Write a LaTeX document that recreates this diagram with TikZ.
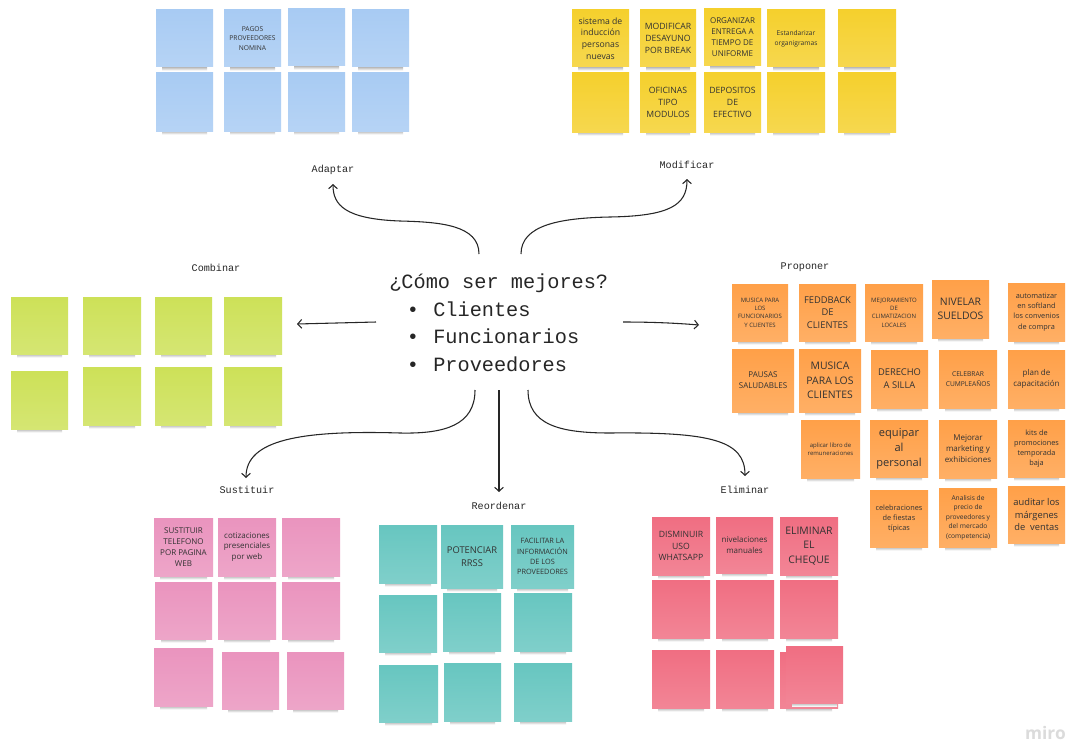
\documentclass[tikz,border=0pt]{standalone}
\usepackage{fontspec}
\setmainfont{Open Sans}
\newfontfamily\monof{Liberation Mono}
\usetikzlibrary{arrows.meta}

\definecolor{nblue}{RGB}{168,203,243}
\definecolor{nyellow}{RGB}{245,208,45}
\definecolor{norange}{RGB}{255,160,72}
\definecolor{ngreen}{RGB}{205,225,88}
\definecolor{npink}{RGB}{234,148,190}
\definecolor{nteal}{RGB}{103,198,192}
\definecolor{nred}{RGB}{240,110,130}
\definecolor{notetext}{RGB}{50,50,50}

\tikzset{
  postit/.style={inner sep=1pt, align=center, text=notetext},
  fA/.style={font=\fontsize{4.5pt}{6.3pt}\selectfont},
  fB/.style={font=\fontsize{5pt}{7.2pt}\selectfont},
  fC/.style={font=\fontsize{5.5pt}{7.6pt}\selectfont},
  fD/.style={font=\fontsize{6pt}{8.2pt}\selectfont},
  fE/.style={font=\fontsize{6.5pt}{8.8pt}\selectfont},
  fF/.style={font=\fontsize{7pt}{9.6pt}\selectfont},
  fG/.style={font=\fontsize{7.8pt}{10.7pt}\selectfont},
  fH/.style={font=\fontsize{8.3pt}{11.3pt}\selectfont},
  plain/.style={},
  steplabel/.style={font=\monof\fontsize{7.6pt}{9pt}\selectfont, text=black!85, inner sep=0pt},
  hubtext/.style={font=\monof\fontsize{15.2pt}{18pt}\selectfont, text=black!85, inner sep=0pt},
  conn/.style={draw=black!85, line width=0.8pt, -{Straight Barb[length=3pt,width=6.5pt]}},
}

% sticky note: name, x1, y1, x2, y2, colour, font style, text
\newcommand\postit[8]{%
  \pgfmathsetmacro\pw{(#4-#2)*0.75}%
  \pgfmathsetmacro\ph{(#5-#3)*0.75}%
  \shade[top color=black!28, bottom color=white] ({#2+6},#5) rectangle ({#4-6},{#5+3.5});
  \node[postit, #7, top color=#6, bottom color=#6!84!white,
        minimum width=\pw pt, minimum height=\ph pt] (#1)
        at ({(#2+#4)/2},{(#3+#5)/2}) {#8};}

\begin{document}
\begin{tikzpicture}[x=0.75pt,y=-0.75pt]
\useasboundingbox[fill=white] (0,0) rectangle (1070,742);

% ---- Adaptar (blue) ----
\postit{b1}{156}{10}{213}{67}{nblue}{plain}{}
\postit{b2}{224}{10}{281}{67}{nblue}{fB}{PAGOS\\PROVEEDORES\\NOMINA}
\postit{b3}{288}{9}{345}{66}{nblue}{plain}{}
\postit{b4}{352}{10}{409}{67}{nblue}{plain}{}
\postit{b5}{156}{73}{213}{131}{nblue}{plain}{}
\postit{b6}{224}{73}{281}{131}{nblue}{plain}{}
\postit{b7}{288}{73}{345}{131}{nblue}{plain}{}
\postit{b8}{352}{73}{409}{131}{nblue}{plain}{}

% ---- Modificar (yellow) ----
\postit{y1}{572}{10}{629}{67}{nyellow}{fE}{sistema de\\inducción\\personas\\nuevas}
\postit{y2}{640}{10}{696}{67}{nyellow}{fE}{MODIFICAR\\DESAYUNO\\POR BREAK}
\postit{y3}{704}{9}{761}{66}{nyellow}{fD}{ORGANIZAR\\ENTREGA A\\TIEMPO DE\\UNIFORME}
\postit{y4}{767}{10}{825}{67}{nyellow}{fB}{Estandarizar\\organigramas}
\postit{y5}{838}{10}{896}{67}{nyellow}{plain}{}
\postit{y6}{572}{73}{629}{132}{nyellow}{plain}{}
\postit{y7}{640}{73}{696}{132}{nyellow}{fE}{OFICINAS\\TIPO\\MODULOS}
\postit{y8}{704}{73}{761}{132}{nyellow}{fE}{DEPOSITOS\\DE\\EFECTIVO}
\postit{y9}{767}{73}{825}{132}{nyellow}{plain}{}
\postit{y10}{838}{73}{896}{132}{nyellow}{plain}{}

% ---- Combinar (green) ----
\postit{g1}{11}{297}{68}{354}{ngreen}{plain}{}
\postit{g2}{83}{297}{141}{354}{ngreen}{plain}{}
\postit{g3}{155}{297}{212}{354}{ngreen}{plain}{}
\postit{g4}{224}{297}{282}{354}{ngreen}{plain}{}
\postit{g5}{11}{371}{68}{429}{ngreen}{plain}{}
\postit{g6}{83}{367}{141}{425}{ngreen}{plain}{}
\postit{g7}{155}{367}{212}{425}{ngreen}{plain}{}
\postit{g8}{224}{367}{282}{425}{ngreen}{plain}{}

% ---- Proponer (orange) ----
\postit{o1}{732}{284}{788}{341}{norange}{fA}{MUSICA PARA\\LOS\\FUNCIONARIOS\\Y CLIENTES}
\postit{o2}{799}{284}{856}{341}{norange}{fF}{FEDDBACK\\DE\\CLIENTES}
\postit{o3}{865}{284}{923}{341}{norange}{fA}{MEJORAMIENTO\\DE\\CLIMATIZACION\\LOCALES}
\postit{o4}{932}{280}{989}{338}{norange}{fG}{NIVELAR\\SUELDOS}
\postit{o5}{1008}{283}{1065}{341}{norange}{fC}{automatizar\\en softland\\los convenios\\de compra}
\postit{o6}{732}{349}{794}{412}{norange}{fD}{PAUSAS\\SALUDABLES}
\postit{o7}{799}{349}{861}{412}{norange}{fG}{MUSICA\\PARA LOS\\CLIENTES}
\postit{o8}{871}{350}{928}{408}{norange}{fF}{DERECHO\\A SILLA}
\postit{o9}{939}{350}{997}{408}{norange}{fB}{CELEBRAR\\CUMPLEAÑOS}
\postit{o10}{1008}{350}{1065}{408}{norange}{fD}{plan de\\capacitación}
\postit{o11}{801}{420}{860}{478}{norange}{fA}{aplicar libro de\\remuneraciones}
\postit{o12}{870}{420}{928}{477}{norange}{fH}{equipar\\al\\personal}
\postit{o13}{939}{420}{997}{478}{norange}{fD}{Mejorar\\marketing y\\exhibiciones}
\postit{o14}{1008}{420}{1065}{477}{norange}{fC}{kits de\\promociones\\temporada\\baja}
\postit{o15}{870}{490}{928}{547}{norange}{fC}{celebraciones\\de fiestas\\típicas}
\postit{o16}{939}{488}{997}{547}{norange}{fB}{Analisis de\\precio de\\proveedores y\\del mercado\\(competencia)}
\postit{o17}{1008}{486}{1065}{543}{norange}{fF}{auditar los\\márgenes\\de~~ventas}

% ---- Sustituir (pink) ----
\postit{p1}{154}{518}{213}{576}{npink}{fD}{SUSTITUIR\\TELEFONO\\POR PAGINA\\WEB}
\postit{p2}{218}{518}{276}{576}{npink}{fD}{cotizaciones\\presenciales\\por web}
\postit{p3}{282}{518}{340}{576}{npink}{plain}{}
\postit{p4}{155}{582}{212}{639}{npink}{plain}{}
\postit{p5}{218}{582}{276}{639}{npink}{plain}{}
\postit{p6}{282}{582}{340}{639}{npink}{plain}{}
\postit{p7}{154}{648}{213}{706}{npink}{plain}{}
\postit{p8}{222}{652}{279}{709}{npink}{plain}{}
\postit{p9}{287}{652}{344}{709}{npink}{plain}{}

% ---- Reordenar (teal) ----
\postit{t1}{379}{525}{437}{583}{nteal}{plain}{}
\postit{t2}{441}{525}{503}{588}{nteal}{fF}{POTENCIAR\\RRSS}
\postit{t3}{511}{525}{574}{588}{nteal}{fC}{FACILITAR LA\\INFORMACIÓN\\DE LOS\\PROVEEDORES}
\postit{t4}{379}{595}{437}{652}{nteal}{plain}{}
\postit{t5}{443}{593}{501}{651}{nteal}{plain}{}
\postit{t6}{514}{593}{572}{651}{nteal}{plain}{}
\postit{t7}{379}{665}{438}{722}{nteal}{plain}{}
\postit{t8}{444}{663}{501}{721}{nteal}{plain}{}
\postit{t9}{514}{663}{572}{721}{nteal}{plain}{}

% ---- Eliminar (red) ----
\postit{r1}{652}{517}{710}{575}{nred}{fE}{DISMINUIR\\USO\\WHATSAPP}
\postit{r2}{716}{517}{773}{573}{nred}{fD}{nivelaciones\\manuales}
\postit{r3}{780}{517}{838}{575}{nred}{fG}{ELIMINAR\\EL\\CHEQUE}
\postit{r4}{652}{580}{710}{638}{nred}{plain}{}
\postit{r5}{716}{580}{774}{638}{nred}{plain}{}
\postit{r6}{780}{580}{838}{638}{nred}{plain}{}
\postit{r7}{652}{650}{710}{708}{nred}{plain}{}
\postit{r8}{716}{650}{774}{708}{nred}{plain}{}
\postit{r9a}{780}{652}{838}{708}{nred}{plain}{}
\postit{r9}{786}{646}{843}{703}{nred}{plain}{}

% ---- central question ----
\node[hubtext, anchor=base west] (title) at (389,288) {¿Cómo ser mejores?};
\node[hubtext, anchor=base] (bul1) at (413,316) {•};
\node[hubtext, anchor=base west] (item1) at (433,316) {Clientes};
\node[hubtext, anchor=base] (bul2) at (413,343) {•};
\node[hubtext, anchor=base west] (item2) at (433,343) {Funcionarios};
\node[hubtext, anchor=base] (bul3) at (413,371) {•};
\node[hubtext, anchor=base west] (item3) at (433,371) {Proveedores};

% ---- step labels ----
\node[steplabel] (lAdaptar) at (333,170) {Adaptar};
\node[steplabel] (lModificar) at (687,165) {Modificar};
\node[steplabel] (lCombinar) at (216,268) {Combinar};
\node[steplabel] (lProponer) at (805,267) {Proponer};
\node[steplabel] (lSustituir) at (247,490) {Sustituir};
\node[steplabel] (lReordenar) at (499,506) {Reordenar};
\node[steplabel] (lEliminar) at (745,490) {Eliminar};

% ---- connector end points ----
\coordinate (sA) at (479,254);  \coordinate (tA) at (333,184);
\coordinate (sM) at (521,254);  \coordinate (tM) at (687,179);
\coordinate (sC) at (376,322);  \coordinate (tC) at (297,324);
\coordinate (sP) at (623,322);  \coordinate (tP) at (699,325);
\coordinate (sS) at (475,390);  \coordinate (tS) at (246,478);
\coordinate (sR) at (499,390);  \coordinate (tR) at (499,492);
\coordinate (sE) at (528,390);  \coordinate (tE) at (745,476);

% ---- connectors ----
\draw[conn] (sA) .. controls (479,225) and (440,222) .. (400,221)
                 .. controls (345,219) and (333,205) .. (tA);
\draw[conn] (sM) .. controls (521,225) and (560,218) .. (610,217)
                 .. controls (670,216) and (687,205) .. (tM);
\draw[conn] (sC) -- (tC);
\draw[conn] (sP) .. controls (650,322) and (675,323) .. (tP);
\draw[conn] (sS) .. controls (475,425) and (445,434) .. (400,433)
                 .. controls (300,430) and (246,440) .. (tS);
\draw[conn] (sR) -- (tR);
\draw[conn] (sE) .. controls (528,425) and (560,433) .. (610,433)
                 .. controls (710,432) and (745,440) .. (tE);

% ---- watermark ----
\node[anchor=base east, text=black!14, inner sep=0pt,
      font=\fontsize{13pt}{13pt}\selectfont\bfseries] (wm) at (1066,739) {miro};
\end{tikzpicture}
\end{document}
